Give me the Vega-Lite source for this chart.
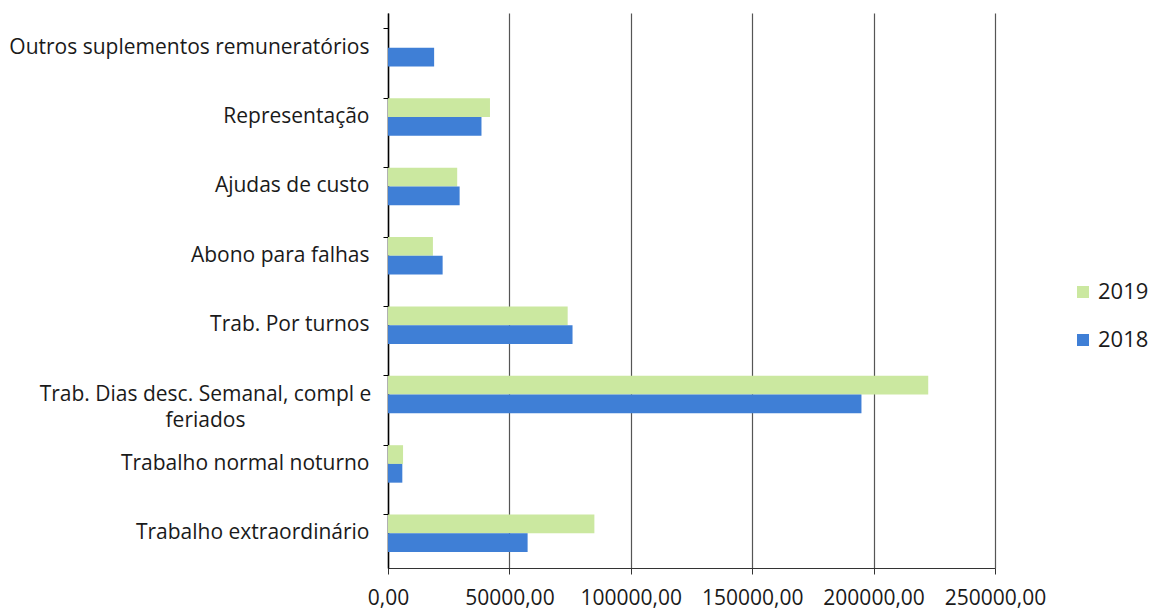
{
  "$schema": "https://vega.github.io/schema/vega-lite/v6.json",
  "autosize": "none",
  "width": 607,
  "height": 555,
  "padding": {"left": 388, "top": 13, "right": 160, "bottom": 43},
  "background": "white",
  "config": {"view": {"stroke": null}, "font": "Open Sans"},
  "data": {
    "values": [
      {"cat": "Outros suplementos remuneratórios", "ano": "2019", "valor": 0},
      {"cat": "Outros suplementos remuneratórios", "ano": "2018", "valor": 19000},
      {"cat": "Representação", "ano": "2019", "valor": 42000},
      {"cat": "Representação", "ano": "2018", "valor": 38500},
      {"cat": "Ajudas de custo", "ano": "2019", "valor": 28500},
      {"cat": "Ajudas de custo", "ano": "2018", "valor": 29500},
      {"cat": "Abono para falhas", "ano": "2019", "valor": 18500},
      {"cat": "Abono para falhas", "ano": "2018", "valor": 22500},
      {"cat": "Trab. Por turnos", "ano": "2019", "valor": 74000},
      {"cat": "Trab. Por turnos", "ano": "2018", "valor": 76000},
      {"cat": "Trab. Dias desc. Semanal, compl e feriados", "ano": "2019", "valor": 222500},
      {"cat": "Trab. Dias desc. Semanal, compl e feriados", "ano": "2018", "valor": 195000},
      {"cat": "Trabalho normal noturno", "ano": "2019", "valor": 6200},
      {"cat": "Trabalho normal noturno", "ano": "2018", "valor": 5900},
      {"cat": "Trabalho extraordinário", "ano": "2019", "valor": 85000},
      {"cat": "Trabalho extraordinário", "ano": "2018", "valor": 57500}
    ]
  },
  "mark": {"type": "bar"},
  "encoding": {
    "y": {
      "field": "cat",
      "type": "nominal",
      "sort": null,
      "title": null,
      "scale": {"paddingInner": 0.46, "paddingOuter": 0.23},
      "axis": {
        "domainColor": "#000",
        "domainWidth": 1.5,
        "tickColor": "#000",
        "tickSize": 5,
        "bandPosition": 0,
        "labelFontSize": 21,
        "labelColor": "#1a1a1a",
        "labelAlign": {"condition": {"test": "datum.value == 'Trab. Dias desc. Semanal, compl e feriados'", "value": "center"}, "value": "right"},
        "labelPadding": {"condition": {"test": "datum.value == 'Trab. Dias desc. Semanal, compl e feriados'", "value": 178}, "value": 14},
        "labelLimit": 400,
        "labelExpr": "datum.value == 'Trab. Dias desc. Semanal, compl e feriados' ? ['Trab. Dias desc. Semanal, compl e', 'feriados'] : datum.value",
        "labelLineHeight": 26
      }
    },
    "x": {
      "field": "valor",
      "type": "quantitative",
      "title": null,
      "scale": {"domain": [0, 250000], "nice": false},
      "axis": {
        "values": [0, 50000, 100000, 150000, 200000, 250000],
        "grid": true,
        "gridColor": "#555",
        "gridWidth": 1.2,
        "domainColor": "#333",
        "tickColor": "#333",
        "tickSize": 6,
        "labelFontSize": 21,
        "labelColor": "#1a1a1a",
        "labelPadding": 13,
        "labelOverlap": false,
        "labelBound": false,
        "labelFlush": false,
        "labelExpr": "replace(format(datum.value, '.2f'), '.', ',')"
      }
    },
    "yOffset": {"field": "ano", "type": "nominal", "sort": ["2019", "2018"]},
    "color": {
      "field": "ano",
      "type": "nominal",
      "sort": ["2019", "2018"],
      "scale": {"domain": ["2019", "2018"], "range": ["#cbe8a0", "#3f7fd6"]},
      "legend": {
        "title": null,
        "orient": "none",
        "legendX": 684,
        "legendY": 268,
        "symbolType": "square",
        "symbolSize": 144,
        "symbolStrokeWidth": 0,
        "labelFontSize": 22,
        "labelColor": "#1a1a1a",
        "rowPadding": 26
      }
    }
  }
}
